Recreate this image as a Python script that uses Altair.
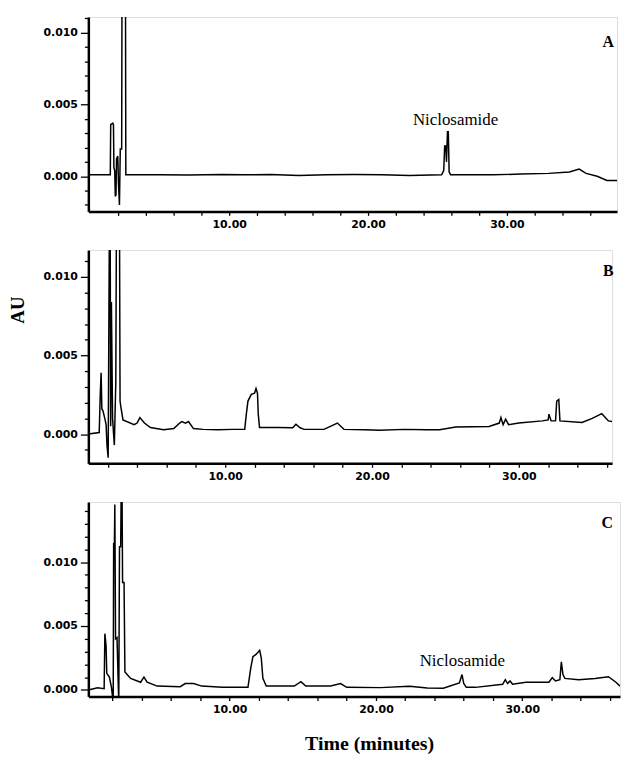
import altair as alt
import pandas as pd

# ---------------- data ----------------
# Panel A
tA = [-0.14, 1.0, 1.44, 1.47, 1.62, 1.67, 1.70, 1.76, 1.80, 1.85, 1.89, 1.98, 2.03, 2.10, 2.16, 2.26,
      2.32, 2.50, 2.56, 3.5, 5.0, 7.0, 9.5, 11.0, 13.0, 15.0, 17.0, 19.0, 21.0, 23.0, 25.3,
      25.45, 25.52, 25.60, 25.65, 25.72, 25.78, 25.84, 25.95, 27.0, 29.0, 31.0, 33.0, 34.5,
      35.2, 35.7, 36.5, 37.2, 37.93]
auA = [0.0001, 0.0001, 0.0001, 0.0036, 0.0037, 0.0036, 0.0006, 0.0004, -0.0014, -0.0013, 0.0012,
       0.0014, -0.0005, -0.0020, 0.0019, 0.0019, 0.03, 0.03, 0.0001, 0.0001, 0.0001, 0.00008,
       0.00012, 0.0001, 0.00012, 0.00005, 0.0001, 0.00012, 0.0001, 0.00005, 0.0001,
       0.0004, 0.0021, 0.0021, 0.0010, 0.0031, 0.0031, 0.0003, 0.0001, 0.0001, 0.0001, 0.00015,
       0.0002, 0.0003, 0.0005, 0.0002, 0.0, -0.0003, -0.0003]

# Panel B
tB = [0.68, 1.42, 1.49, 1.55, 1.60, 1.67, 1.80, 1.89, 1.95, 2.03, 2.08, 2.15, 2.20, 2.25, 2.33,
      2.45, 2.55, 2.62, 2.78, 2.84, 2.90, 3.04, 3.8, 4.0, 4.19, 4.5, 4.91, 5.8, 6.5, 6.9, 7.05,
      7.3, 7.5, 7.84, 8.5, 9.5, 10.5, 11.33, 11.44, 11.55, 11.78, 12.0, 12.1, 12.2, 12.25, 12.34,
      13.58, 14.6, 14.82, 15.1, 15.38, 16.73, 17.64, 18.09, 19.5, 20.5, 22.2, 23.7, 24.6, 25.7,
      27.97, 28.67, 28.78, 28.93, 29.1, 29.3, 30.0, 31.6, 32.0, 32.05, 32.2, 32.5, 32.58, 32.72,
      32.8, 34.3, 35.0, 35.65, 36.1, 36.35]
auB = [0.0, 0.0001, 0.0025, 0.0039, 0.0016, 0.0015, 0.0010, 0.0006, -0.0007, -0.0015, 0.0075,
       0.02, 0.0005, 0.0084, 0.0010, -0.0007, 0.0033, 0.02, 0.02, 0.0021, 0.0017, 0.0009, 0.0006,
       0.0007, 0.00105, 0.0007, 0.00042, 0.00027, 0.00035, 0.0007, 0.0008, 0.0007, 0.0008,
       0.00035, 0.0003, 0.00027, 0.0003, 0.0003, 0.00127, 0.0021, 0.00253, 0.0026, 0.0029,
       0.0026, 0.0013, 0.00042, 0.00042, 0.0004, 0.00063, 0.0004, 0.0003, 0.0003, 0.0007,
       0.0003, 0.00028, 0.00025, 0.0003, 0.00027, 0.00027, 0.00045, 0.00048, 0.0007, 0.00105,
       0.0006, 0.00095, 0.0006, 0.0007, 0.00084, 0.0009, 0.00127, 0.00084, 0.00084, 0.0021,
       0.0022, 0.00084, 0.00074, 0.0010, 0.0013, 0.00084, 0.0008]

# Panel C
tC = [0.34, 0.97, 1.42, 1.47, 1.55, 1.60, 1.78, 1.92, 2.04, 2.07, 2.12, 2.15, 2.20, 2.30, 2.36,
      2.42, 2.47, 2.55, 2.62, 2.68, 2.78, 2.84, 3.23, 3.91, 4.14, 4.36, 5.04, 6.62, 6.96, 7.53,
      8.09, 9.5, 11.25, 11.44, 11.59, 11.82, 12.05, 12.16, 12.27, 12.5, 14.42, 14.87, 15.2,
      16.9, 17.58, 18.0, 20.3, 22.3, 23.5, 24.6, 25.7, 25.88, 26.0, 26.17, 26.8, 28.66, 28.84,
      29.0, 29.16, 29.34, 30.24, 31.82, 32.05, 32.27, 32.57, 32.67, 32.78, 32.91, 33.85, 34.98,
      35.89, 36.4, 36.68]
auC = [0.0, 0.00016, 0.0001, 0.0044, 0.0035, 0.0013, 0.0010, 0.0002, -0.001, 0.0115, 0.0113,
       0.0145, 0.0040, 0.0041, 0.0015, -0.001, 0.0112, 0.0112, 0.02, 0.0084, 0.0084, 0.0014,
       0.0009, 0.0006, 0.0010, 0.0006, 0.0003, 0.00025, 0.0005, 0.0005, 0.0003, 0.0002, 0.0002,
       0.0017, 0.0026, 0.0028, 0.0031, 0.0025, 0.0009, 0.0003, 0.0003, 0.00065, 0.0003, 0.0003,
       0.0005, 0.0002, 0.00018, 0.00028, 0.00015, 0.00013, 0.00055, 0.0012, 0.0005, 0.0002,
       0.0002, 0.00044, 0.0008, 0.0005, 0.0007, 0.00044, 0.0006, 0.0006, 0.00096, 0.0007,
       0.0008, 0.0022, 0.0012, 0.0009, 0.0008, 0.0009, 0.00103, 0.0006, 0.0003]

# annotations
panel_letters = ["A", "B", "C"]
letter_t = [37.3, 36.1, 35.8]
letter_au = [0.00935, 0.01034, 0.01307]
peak_label = "Niclosamide"
peakA_t, peakA_au = 26.3, 0.00359
peakC_t, peakC_au = 25.9, 0.00184

x_tick_values = list(range(2, 38, 2))

SERIF = "Liberation Serif"
SANS = "DejaVu Sans"


def y_ticks(lo, hi):
    return [round(v * 0.001, 3) for v in range(lo, hi + 1)]


def make_panel(t, au, xdom, ydom, yvals, w, h, letter, lt, la, peak=None,
               ytitle=False, xtitle=False):
    df = pd.DataFrame({"t": t, "au": au})
    xaxis_kw = dict(
        values=x_tick_values,
        labelExpr="datum.value % 10 == 0 ? format(datum.value, '.2f') : ''",
        tickSize=4, tickColor="black", tickWidth=1.3,
        domainColor="black", domainWidth=2.5,
        labelFont=SANS, labelFontSize=11, labelFontWeight="bold",
        labelColor="black", labelPadding=3,
        labelOverlap=False, labelFlush=False, grid=False,
    )
    if xtitle:
        xaxis_kw.update(title="Time (minutes)", titleFont=SERIF, titleFontSize=20,
                        titleFontWeight="bold", titleColor="black", titlePadding=19,
                        titleX=283)
    else:
        xaxis_kw.update(title=None)
    yaxis_kw = dict(
        values=yvals,
        labelExpr="round(datum.value * 1000) % 5 == 0 ? format(datum.value, '.3f') : ''",
        tickSize={"condition": {"test": "round(datum.value * 1000) % 5 == 0", "value": 8},
                  "value": 4},
        tickColor="black", tickWidth=1.3,
        domainColor="black", domainWidth=2.5,
        labelFont=SANS, labelFontSize=11, labelFontWeight="bold",
        labelColor="black", labelPadding=3,
        labelOverlap=False, labelFlush=False, grid=False,
    )
    if ytitle:
        yaxis_kw.update(title="AU", titleFont=SERIF, titleFontSize=19,
                        titleFontWeight="bold", titleColor="black",
                        titleX=-61, titleY=60)
    else:
        yaxis_kw.update(title=None)

    x = alt.X("t:Q", scale=alt.Scale(domain=xdom, nice=False, zero=False),
              axis=alt.Axis(**xaxis_kw))
    y = alt.Y("au:Q", scale=alt.Scale(domain=ydom, nice=False, zero=False),
              axis=alt.Axis(**yaxis_kw))
    line = alt.Chart(df).mark_line(color="black", strokeWidth=1.5, clip=True,
                                   interpolate="linear").encode(x=x, y=y)
    layers = [line]
    ldf = pd.DataFrame({"t": [lt], "au": [la], "label": [letter]})
    layers.append(alt.Chart(ldf).mark_text(font=SERIF, fontSize=16, fontWeight="bold",
                                           color="black", align="center",
                                           baseline="middle").encode(
        x=x, y=y, text="label:N"))
    if peak is not None:
        pdf = pd.DataFrame({"t": [peak[0]], "au": [peak[1]], "label": [peak_label]})
        layers.append(alt.Chart(pdf).mark_text(font=SERIF, fontSize=17, color="black",
                                               align="center",
                                               baseline="alphabetic").encode(
            x=x, y=y, text="label:N"))
    return alt.layer(*layers).properties(width=w, height=h)


pA = make_panel(tA, auA, [-0.14, 37.93], [-0.00245, 0.0111], y_ticks(-2, 11), 533, 196,
                "A", letter_t[0], letter_au[0], peak=(peakA_t, peakA_au))
pB = make_panel(tB, auB, [0.68, 36.35], [-0.00186, 0.0117], y_ticks(-1, 11), 528, 215,
                "B", letter_t[1], letter_au[1], ytitle=True)
pC = make_panel(tC, auC, [0.34, 36.68], [-0.00051, 0.0147], y_ticks(0, 14), 536, 196,
                "C", letter_t[2], letter_au[2], peak=(peakC_t, peakC_au), xtitle=True)

chart = alt.vconcat(pA, pB, pC, spacing=19).properties(
    padding={"left": 0, "top": 0, "right": 0, "bottom": 0}
).configure_view(strokeOpacity=0).configure_axis(
    labelOverlap=False
).configure(background="white")

chart.save("out.html", embed_options={"renderer": "svg", "actions": False})
